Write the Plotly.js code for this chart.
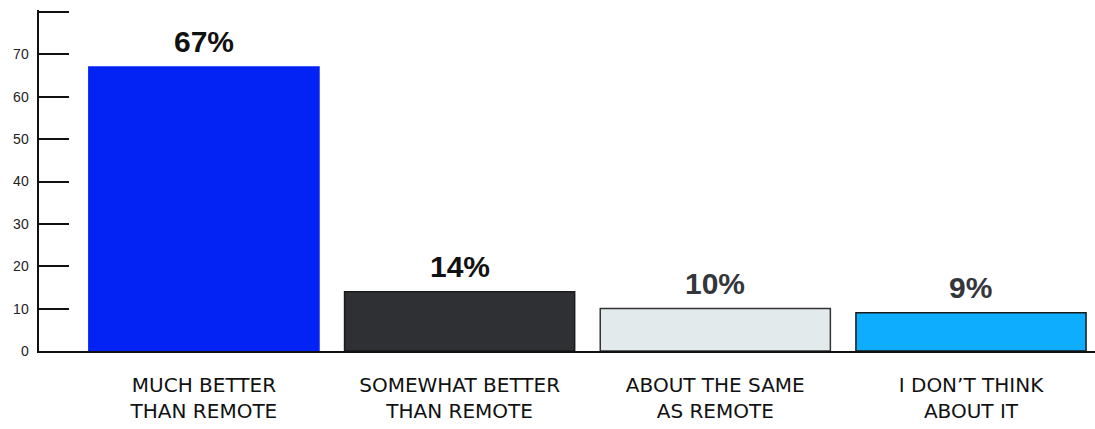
<!DOCTYPE html>
<html>
<head>
<meta charset="utf-8">
<script src="https://cdn.plot.ly/plotly-3.0.1.min.js"></script>
<style>html,body{margin:0;padding:0;background:#fff;}#chart{width:1095px;height:429px;}</style>
</head>
<body>
<div id="chart"></div>
<script>
const categories = ["MUCH BETTER<br>THAN REMOTE", "SOMEWHAT BETTER<br>THAN REMOTE", "ABOUT THE SAME<br>AS REMOTE", "I DON’T THINK<br>ABOUT IT"];
const values = [67, 14, 10, 9];
const valueLabels = ["67%", "14%", "10%", "9%"];
const barColors = ["#0323F5", "#2F3034", "#E2EAEC", "#0EADFE"];
const lineColors = ["#0323F5", "#1a1a1a", "#333333", "#1a1a1a"];
const labelColors = ["#111111", "#111111", "#33363b", "#33363b"];
const yTickVals = [0, 10, 20, 30, 40, 50, 60, 70, 80];
const yTickText = ["0", "10", "20", "30", "40", "50", "60", "70", ""];

const trace = {
  type: "bar",
  x: categories,
  y: values,
  width: 0.9,
  marker: {color: barColors, line: {color: lineColors, width: 1.5}},
  hoverinfo: "none"
};

const annotations = categories.map((c, i) => ({
  x: c, y: values[i], xref: "x", yref: "y",
  text: valueLabels[i], showarrow: false,
  yanchor: "bottom", xanchor: "center", yshift: 7,
  font: {family: "'Liberation Sans', Arial, sans-serif", size: 30, color: labelColors[i], weight: 700}
}));

const layout = {
  width: 1095, height: 429,
  margin: {l: 39, r: 0, t: 10, b: 78},
  paper_bgcolor: "#fff", plot_bgcolor: "#fff",
  showlegend: false,
  bargap: 0.1,
  annotations: annotations,
  font: {family: "'DejaVu Sans', sans-serif", color: "#111"},
  xaxis: {
    range: [-0.645, 3.485],
    showline: true, linecolor: "#111", linewidth: 2,
    showgrid: false, zeroline: false, ticks: "",
    tickfont: {family: "'DejaVu Sans', sans-serif", size: 20, color: "#111"},
    ticklabelstandoff: 15,
    fixedrange: true
  },
  yaxis: {
    range: [0, 80.47],
    tickvals: yTickVals, ticktext: yTickText,
    ticks: "inside", ticklen: 30, tickwidth: 2, tickcolor: "#111",
    showline: true, linecolor: "#111", linewidth: 2.5,
    showgrid: false, zeroline: false,
    tickfont: {family: "'Liberation Sans', Arial, sans-serif", size: 14, color: "#222"},
    ticklabelstandoff: 5,
    fixedrange: true
  }
};

Plotly.newPlot("chart", [trace], layout, {displayModeBar: false, staticPlot: true});
</script>
</body>
</html>
